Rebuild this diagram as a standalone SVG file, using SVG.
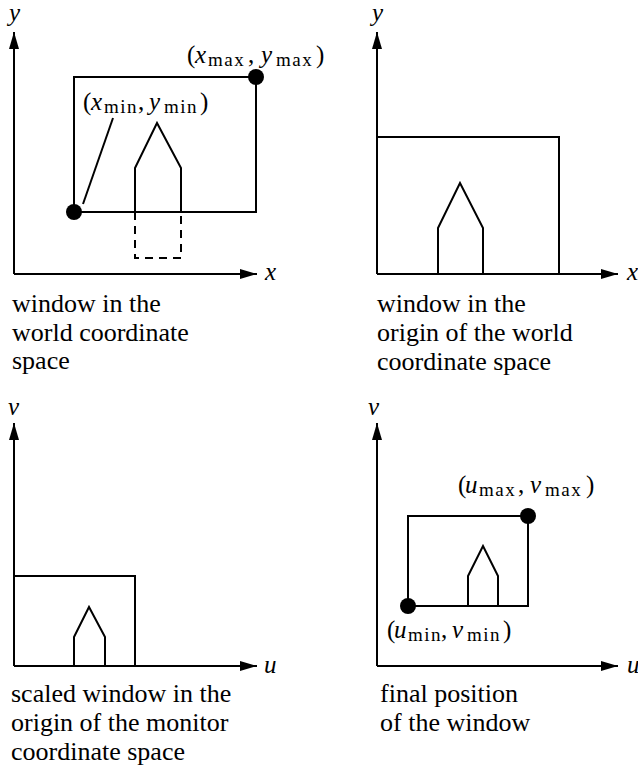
<svg xmlns="http://www.w3.org/2000/svg" width="638" height="771" viewBox="0 0 638 771">
<style>
.ln{fill:none;stroke:#000;stroke-width:2;stroke-linejoin:miter}
.ax{fill:none;stroke:#000;stroke-width:2}
.dash{fill:none;stroke:#000;stroke-width:2;stroke-dasharray:8 6}
.dot{fill:#000}
text{font-family:'Liberation Serif','Times New Roman','DejaVu Serif','Noto Serif',serif;fill:#000}
.cap{font-size:26px}
.m{font-size:25px}
.i{font-style:italic}
.s{font-size:19px;letter-spacing:1.5px}
</style>
<defs>
<marker id="ah" markerWidth="17" markerHeight="10" refX="17" refY="5" orient="auto" markerUnits="userSpaceOnUse">
<path d="M0,0 L17,5 L0,10 z" fill="#000"/>
</marker>
</defs>

<g id="panel1">
<g id="p1-axes">
<path class="ax" d="M14,274 V32" marker-end="url(#ah)"/>
<path class="ax" d="M14,274 H257" marker-end="url(#ah)"/>
<text class="m i" x="9" y="21">y</text>
<text class="m i" x="265" y="280">x</text>
</g>
<g id="p1-window">
<rect class="ln" x="74" y="77" width="182" height="135"/>
<path class="ln" d="M135,212 V168 L157,123 L181,168 V212"/>
<path class="dash" d="M135,212 V258 H181 V212"/>
<path class="ln" d="M83,204 L113,118"/>
<circle class="dot" cx="74" cy="212" r="8"/>
<circle class="dot" cx="256" cy="77" r="8"/>
</g>
<g id="p1-label-max">
<text class="m" y="63"><tspan x="187">(</tspan><tspan class="i" x="195">x</tspan><tspan class="s" x="208" dy="3">max</tspan><tspan x="248" dy="-3">,</tspan><tspan class="i" x="261">y</tspan><tspan class="s" x="276" dy="3">max</tspan><tspan x="316" dy="-3">)</tspan></text>
</g>
<g id="p1-label-min">
<text class="m" y="110"><tspan x="83">(</tspan><tspan class="i" x="91">x</tspan><tspan class="s" x="104" dy="3">min</tspan><tspan x="138" dy="-3">,</tspan><tspan class="i" x="149">y</tspan><tspan class="s" x="164" dy="3">min</tspan><tspan x="200" dy="-3">)</tspan></text>
</g>
<g id="p1-caption">
<text class="cap" x="12" y="312">window in the</text>
<text class="cap" x="12" y="341">world coordinate</text>
<text class="cap" x="12" y="369">space</text>
</g>
</g>

<g id="panel2">
<g id="p2-axes">
<path class="ax" d="M377,274 V32" marker-end="url(#ah)"/>
<path class="ax" d="M377,274 H618" marker-end="url(#ah)"/>
<text class="m i" x="372" y="21">y</text>
<text class="m i" x="627" y="280">x</text>
</g>
<g id="p2-window">
<path class="ln" d="M377,137 H559 V274"/>
<path class="ln" d="M438,274 V228 L460,183 L483,228 V274"/>
</g>
<g id="p2-caption">
<text class="cap" x="377" y="312">window in the</text>
<text class="cap" x="377" y="341">origin of the world</text>
<text class="cap" x="377" y="370">coordinate space</text>
</g>
</g>

<g id="panel3">
<g id="p3-axes">
<path class="ax" d="M14,666 V423" marker-end="url(#ah)"/>
<path class="ax" d="M14,666 H257" marker-end="url(#ah)"/>
<text class="m i" x="8" y="415">v</text>
<text class="m i" x="264" y="673">u</text>
</g>
<g id="p3-window">
<path class="ln" d="M14,576 H135 V666"/>
<path class="ln" d="M74,666 V637 L89,607 L105,637 V666"/>
</g>
<g id="p3-caption">
<text class="cap" x="11" y="702">scaled window in the</text>
<text class="cap" x="11" y="731">origin of the monitor</text>
<text class="cap" x="11" y="760">coordinate space</text>
</g>
</g>

<g id="panel4">
<g id="p4-axes">
<path class="ax" d="M377,666 V423" marker-end="url(#ah)"/>
<path class="ax" d="M377,666 H618" marker-end="url(#ah)"/>
<text class="m i" x="368" y="415">v</text>
<text class="m i" x="627" y="673">u</text>
</g>
<g id="p4-window">
<rect class="ln" x="408" y="516" width="120" height="90"/>
<path class="ln" d="M468,606 V576 L483,546 L498,576 V606"/>
<circle class="dot" cx="408" cy="606" r="8"/>
<circle class="dot" cx="528" cy="516" r="8"/>
</g>
<g id="p4-label-max">
<text class="m" y="493"><tspan x="458">(</tspan><tspan class="i" x="465">u</tspan><tspan class="s" x="479" dy="3">max</tspan><tspan x="518" dy="-3">,</tspan><tspan class="i" x="530">v</tspan><tspan class="s" x="545" dy="3">max</tspan><tspan x="586" dy="-3">)</tspan></text>
</g>
<g id="p4-label-min">
<text class="m" y="638"><tspan x="387">(</tspan><tspan class="i" x="394">u</tspan><tspan class="s" x="408" dy="3">min</tspan><tspan x="441" dy="-3">,</tspan><tspan class="i" x="452">v</tspan><tspan class="s" x="467" dy="3">min</tspan><tspan x="503" dy="-3">)</tspan></text>
</g>
<g id="p4-caption">
<text class="cap" x="380" y="702">final position</text>
<text class="cap" x="380" y="731">of the window</text>
</g>
</g>
</svg>
